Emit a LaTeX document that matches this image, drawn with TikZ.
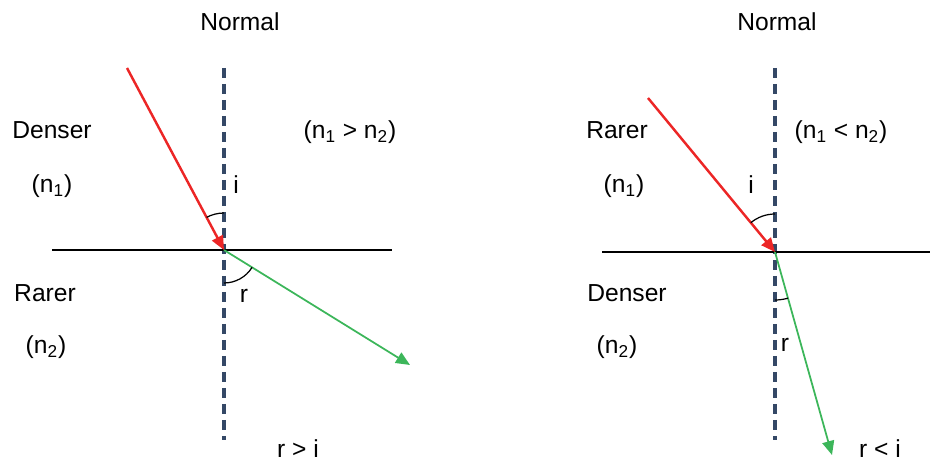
\documentclass[tikz,border=0pt]{standalone}
\usepackage{fontspec}
\setmainfont{Liberation Sans}
\usepackage{xcolor}
\usetikzlibrary{arrows.meta,angles}

\definecolor{rayred}{RGB}{236,38,38}
\definecolor{raygreen}{RGB}{60,182,90}
\definecolor{normalblue}{RGB}{52,72,102}

\tikzset{
  lbl/.style={font=\fontsize{14}{16}\selectfont, inner sep=0pt},
  normalline/.style={normalblue, line width=2pt, dash pattern=on 0.21cm off 0.11cm},
  surface/.style={black, line width=0.8pt},
  incident/.style={-{Triangle[length=0.28cm,width=0.24cm]}, rayred, line width=1.4pt},
  refracted/.style={-{Triangle[length=0.28cm,width=0.24cm]}, raygreen, line width=1pt},
  anglemark/.style={draw, line width=0.7pt}
}

\begin{document}
\begin{tikzpicture}[x=0.02cm,y=-0.02cm]
\useasboundingbox (0,0) rectangle (930,462);

% left: denser to rarer
\coordinate (O1) at (224,250);
\coordinate (top1) at (224,68);
\coordinate (bot1) at (224,440);
\coordinate (srfL1) at (52,250);
\coordinate (srfR1) at (392,250);
\coordinate (src1) at (127,68);
\coordinate (out1) at (410,365);
\draw[normalline] (top1) -- (bot1);
\draw[surface] (srfL1) -- (srfR1);
\draw[incident] (src1) -- (O1);
\draw[refracted] (O1) -- (out1);
\pic[anglemark, angle radius=0.74cm] {angle = top1--O1--src1};
\pic[anglemark, angle radius=0.66cm] {angle = bot1--O1--out1};
\node[lbl] (norm1) at (240,22) {Normal};
\node[lbl] (med1a) at (52,130) {Denser};
\node[lbl] (idx1a) at (52,186) {(n\textsubscript{1})};
\node[lbl] (med1b) at (45,293) {Rarer};
\node[lbl] (idx1b) at (46,347) {(n\textsubscript{2})};
\node[lbl] (ang1i) at (236,185) {i};
\node[lbl] (ang1r) at (244,296) {r};
\node[lbl] (rel1) at (350,132) {(n\textsubscript{1} > n\textsubscript{2})};
\node[lbl] (res1) at (298,449) {r > i};

% right: rarer to denser
\coordinate (O2) at (775,252);
\coordinate (top2) at (775,68);
\coordinate (bot2) at (775,440);
\coordinate (srfL2) at (602,252);
\coordinate (srfR2) at (930,252);
\coordinate (src2) at (648,98);
\coordinate (out2) at (832,455);
\draw[normalline] (top2) -- (bot2);
\draw[surface] (srfL2) -- (srfR2);
\draw[incident] (src2) -- (O2);
\draw[refracted] (O2) -- (out2);
\pic[anglemark, angle radius=0.76cm] {angle = top2--O2--src2};
\pic[anglemark, angle radius=0.96cm] {angle = bot2--O2--out2};
\node[lbl] (norm2) at (777,22) {Normal};
\node[lbl] (med2a) at (617,130) {Rarer};
\node[lbl] (idx2a) at (624,186) {(n\textsubscript{1})};
\node[lbl] (med2b) at (627,293) {Denser};
\node[lbl] (idx2b) at (617,347) {(n\textsubscript{2})};
\node[lbl] (ang2i) at (751,185) {i};
\node[lbl] (ang2r) at (785,345) {r};
\node[lbl] (rel2) at (841,132) {(n\textsubscript{1} < n\textsubscript{2})};
\node[lbl] (res2) at (880,449) {r < i};
\end{tikzpicture}
\end{document}
